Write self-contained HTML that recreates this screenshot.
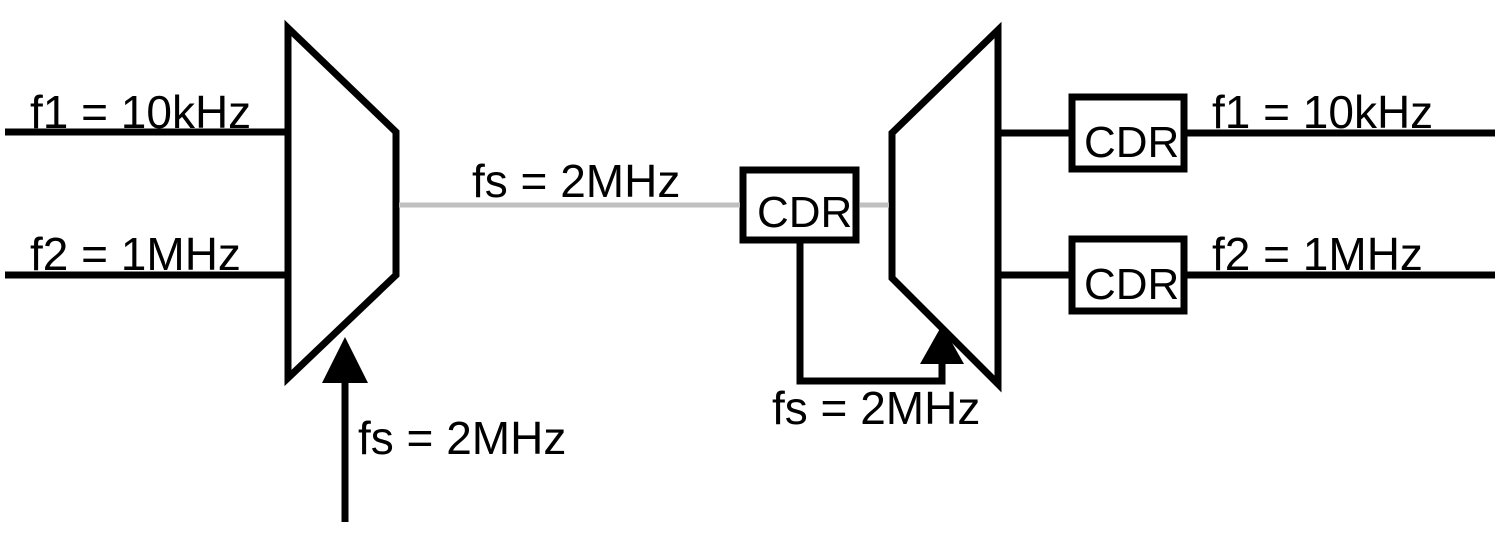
<!DOCTYPE html>
<html><head><style>body{margin:0;background:#fff}</style></head><body>
<svg width="1500" height="545" viewBox="0 0 1500 545" xmlns="http://www.w3.org/2000/svg" font-family="Liberation Sans, sans-serif" font-size="46">
<g stroke="#000" stroke-width="7" fill="none">
<line x1="5" y1="132" x2="288" y2="132"/>
<line x1="5" y1="275" x2="288" y2="275"/>
<polygon points="288,28 396,132 396,275 288,378" fill="#fff"/>
<line x1="345" y1="375" x2="345" y2="522"/>
<polygon points="892,133 998,30 998,384 892,278" fill="#fff"/>
<rect x="743" y="170" width="113" height="70" fill="#fff"/>
<polyline points="800,240 800,381 942,381 942,360"/>
<line x1="998" y1="133" x2="1072" y2="133"/>
<line x1="1184" y1="133" x2="1495" y2="133"/>
<line x1="998" y1="275" x2="1072" y2="275"/>
<line x1="1184" y1="275" x2="1495" y2="275"/>
<rect x="1072" y="97" width="112" height="72" fill="#fff"/>
<rect x="1072" y="239" width="112" height="72" fill="#fff"/>
</g>
<g stroke="#c0c0c0" stroke-width="5">
<line x1="399" y1="205" x2="740" y2="205"/>
<line x1="860" y1="205" x2="889" y2="205"/>
</g>
<polygon points="345,337 322,383 368,383" fill="#000"/>
<polygon points="942,325 920,364 964,364" fill="#000"/>
<g fill="#000">
<text x="30" y="128">f1 = 10kHz</text>
<text x="30" y="270">f2 = 1MHz</text>
<text x="472" y="197">fs = 2MHz</text>
<text x="358" y="454">fs = 2MHz</text>
<text x="772" y="424">fs = 2MHz</text>
<text x="757" y="227" font-size="44">CDR</text>
<text x="1084" y="157" font-size="44">CDR</text>
<text x="1084" y="299" font-size="44">CDR</text>
<text x="1212" y="128">f1 = 10kHz</text>
<text x="1212" y="270">f2 = 1MHz</text>
</g>
</svg>
</body></html>
